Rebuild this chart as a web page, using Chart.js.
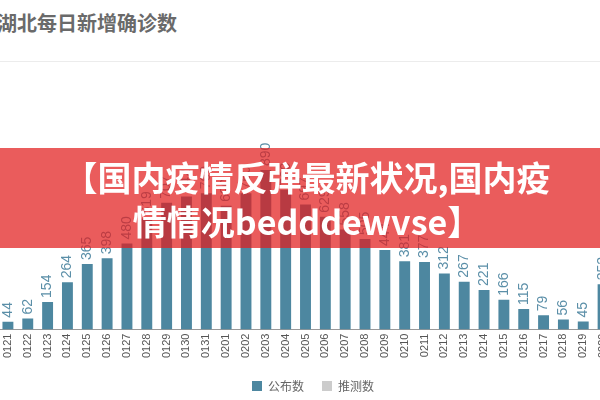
<!DOCTYPE html>
<html>
<head>
<meta charset="utf-8">
<script src="https://cdn.jsdelivr.net/npm/chart.js@4.4.1/dist/chart.umd.min.js"></script>
<style>
  html, body { margin: 0; padding: 0; width: 600px; height: 400px; overflow: hidden; background: #fff; }
  #title { position: absolute; left: -3px; top: 8px; font: bold 20px 'Noto Sans CJK SC', sans-serif; color: #6a6a6a; white-space: nowrap; }
  #sep { position: absolute; left: 0; top: 61px; width: 600px; height: 1px; background: #ececec; }
  #wrap { position: absolute; left: -2px; top: 84px; width: 630px; height: 318px; }
  #banner { position: absolute; left: 0; top: 148px; width: 600px; height: 100px; background: rgba(226,29,29,0.72); z-index: 5; }
  #btext { position: absolute; left: -3px; top: 148px; width: 620px; height: 100px; z-index: 6; text-align: center;
           font: bold 34px 'Noto Sans CJK SC', sans-serif; color: #fff; line-height: 44px; padding-top: 7px; box-sizing: border-box; white-space: nowrap; }
</style>
</head>
<body>
<div id="title">湖北每日新增确诊数</div>
<div id="sep"></div>
<div id="wrap"><canvas id="c"></canvas></div>
<div id="banner"></div>
<div id="btext">【国内疫情反弹最新状况,国内疫<br>情情况bedddewvse】</div>
<script>
const categories = ['0121','0122','0123','0124','0125','0126','0127','0128','0129','0130','0131',
  '0201','0202','0203','0204','0205','0206','0207','0208','0209','0210',
  '0211','0212','0213','0214','0215','0216','0217','0218','0219','0220'];
const publishedValues = [44,62,154,264,365,398,480,619,707,742,760,
  690,760,890,780,697,629,558,505,444,381,
  377,312,267,221,166,115,79,56,45,252];
const estimatedValues = categories.map(() => null);
const seriesNames = ['公布数','推测数'];

const barLabels = {
  id: 'barLabels',
  afterDatasetsDraw(chart) {
    const ctx = chart.ctx;
    const meta = chart.getDatasetMeta(0);
    ctx.save();
    ctx.font = '14px "Liberation Sans", Arial, sans-serif';
    ctx.fillStyle = '#5b8fa8';
    ctx.textAlign = 'left';
    ctx.textBaseline = 'middle';
    meta.data.forEach((bar, i) => {
      const v = publishedValues[i];
      if (v == null) return;
      ctx.save();
      ctx.translate(bar.x, bar.y - 4);
      ctx.rotate(-Math.PI / 2);
      ctx.fillText(String(v), 0, 0);
      ctx.restore();
    });
    ctx.restore();
  }
};

new Chart(document.getElementById('c'), {
  type: 'bar',
  data: {
    labels: categories,
    datasets: [
      { label: seriesNames[0], data: publishedValues, backgroundColor: '#4d87a0', barPercentage: 0.55, categoryPercentage: 1.0, yAxisID: 'y' },
      { label: seriesNames[1], data: estimatedValues, backgroundColor: '#cccccc', barPercentage: 0.55, categoryPercentage: 1.0, yAxisID: 'y' }
    ]
  },
  options: {
    responsive: true,
    maintainAspectRatio: false,
    animation: false,
    layout: { padding: 0 },
    plugins: {
      legend: {
        position: 'bottom',
        labels: {
          boxWidth: 10, boxHeight: 10, padding: 18,
          color: '#666',
          font: { size: 12, family: "'Noto Sans CJK SC', sans-serif" }
        }
      },
      tooltip: { enabled: false }
    },
    scales: {
      x: {
        stacked: true,
        grid: { display: false, drawTicks: false },
        border: { display: true, color: '#999' },
        ticks: { minRotation: 90, maxRotation: 90, autoSkip: false, padding: 4, color: '#555',
                 font: { size: 11, family: "'Liberation Sans', Arial, sans-serif" } }
      },
      y: {
        stacked: true,
        display: false,
        min: 0,
        max: 1370
      },
      yR: {
        position: 'right',
        display: true,
        min: 0,
        max: 1370,
        grid: { display: false, drawTicks: false },
        border: { display: false },
        ticks: { display: false },
        afterFit(s) { s.width = 15; }
      }
    }
  },
  plugins: [barLabels]
});
</script>
</body>
</html>
